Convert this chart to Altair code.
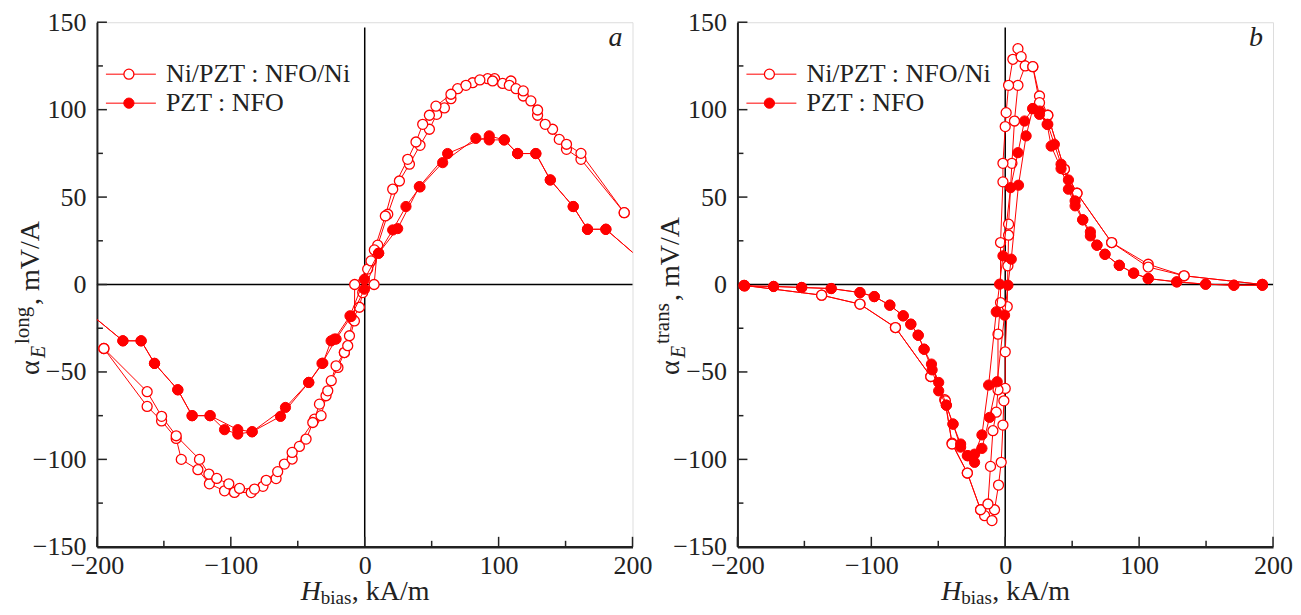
import altair as alt
import pandas as pd

RED = "#ff0000"
INK = "#222222"
FONT = "Liberation Serif"

# ---------------- Panel a (longitudinal) ----------------
a_open1_x = [-194.8, -162.5, -151.7, -140.8, -137, -124.6, -116, -104.7, -97.3, -84.8, -76, -66.2, -60, -54.2,
             -48.8, -43.8, -37.5, -33.8, -28.9, -25, -20, -15.2, -11.4, -9, -4, -1.5, 7, 9.7, 17.2, 25.9, 33.4,
             41.3, 48.3, 53.7, 59.5, 64.4, 69.4, 80.6, 91.8, 97, 103, 109.2, 118.4, 124.1, 129.1, 140.3, 150.7,
             161.5, 193.8]
a_open1_y = [-36.6, -69.7, -78, -88, -100, -105.9, -114, -118, -118.9, -119, -115.4, -111, -102.7, -99.8,
             -92.6, -88.4, -77, -68.4, -63.6, -55, -47.4, -38.9, -29.3, -19.8, -13, -4.6, 0, 22.5, 40.2, 59.2,
             68.8, 79.6, 88.8, 97.3, 101, 106.3, 112, 115.4, 117.7, 117.7, 115, 116.4, 107.8, 105, 96.8, 88.8,
             77.3, 71.6, 41.1]
a_open2_x = [-194.8, -162.5, -151.7, -140.8, -123.4, -116.4, -110.5, -101.5, -93.5, -82.3, -73.6, -65, -54.2,
             -38.8, -32.6, -27.6, -21.4, -15.2, -12.7, -7.7, -7.5, 2.2, 4.7, 7.2, 15.4, 20.9, 32.1, 38.3, 43.3,
             48.3, 53.2, 64.4, 75.6, 86, 95.5, 108, 113, 118.4, 129.1, 134.8, 145.3, 150.7, 161.5, 193.8]
a_open2_y = [-36.6, -61.3, -75.4, -86.5, -100, -108.4, -110.9, -114, -116.6, -117, -112, -107, -96, -78.9,
             -75, -60.8, -46.5, -38.9, -35, -20.8, 0, 8.8, 13.5, 19.8, 39.2, 54.5, 71.6, 81.5, 91.6, 96.8, 102,
             108.8, 113.9, 117, 116.4, 113.9, 112, 110.7, 99.8, 91.6, 83, 80.2, 75, 41.1]
a_fill1_x = [-215, -180.6, -167, -157, -139.6, -128.9, -115.5, -104.7, -94.8, -84.1, -62.9, -41.8, -31.9,
             -21.4, -10.2, -0.2, 10.4, 24.6, 40.8, 61.9, 93, 104.2, 114.2, 127.8, 138.6, 155.7, 166.4, 180.1, 215]
a_fill1_y = [-10.5, -32.2, -32.2, -45.1, -60.2, -75, -75, -83, -85.5, -84.2, -75.4, -56, -45.1, -31.2, -18.3,
             -2.7, 17.9, 32, 56, 74.9, 85, 82.7, 74.9, 74.9, 59.8, 44.6, 31.6, 31.6, 8.5]
a_fill2_x = [-215, -180.6, -167, -157, -139.6, -128.9, -115.5, -94.8, -84.1, -59.2, -41.8, -31.3, -25.1,
             -22.6, -11, -0.2, 10.4, 20.9, 30.8, 41.3, 58.2, 83, 93, 104.2, 114.2, 127.8, 138.6, 155.7, 166.4,
             180.1, 215]
a_fill2_y = [-10.5, -32.2, -32.2, -45.1, -60.2, -75, -75, -83, -84.2, -70.3, -56, -45, -32.2, -31.2, -17.9,
             3, 17.9, 31.2, 44.6, 55.8, 69.7, 83.6, 82.7, 82.7, 74.9, 74.9, 59.8, 44.6, 31.6, 31.6, 8.5]

# ---------------- Panel b (transverse) ----------------
b_open1_x = [-195, -137.1, -108.5, -82, -55.6, -45.2, -39.7, -28.3, -18.4, -15.4, -9.9, -8, -5, -3, -1.7, -1,
             0, 0, 1.5, 2, 2.5, 2.5, 5, 6.9, 9.5, 14.9, 20.6, 25.6, 31.8, 44.2, 53.6, 79.5, 106.8, 133.6, 192]
b_open1_y = [-0.5, -6.1, -11.2, -24.6, -52.6, -65.9, -90.7, -107.8, -128.8, -132.2, -135, -128.8, -114.7,
             -101.7, -80.4, -66.5, -59.4, -38.5, -12.6, 10.7, 28.2, 34.5, 69.3, 93.5, 113.9, 125, 124.6, 107.8,
             96.8, 65.9, 52.2, 24, 11.6, 5, 0]
b_open2_x = [-195, -137.1, -108.5, -82, -55.6, -44.7, -39.7, -28.3, -18.4, -12.9, -11, -9.2, -6.7, -5.4, -5.4,
             -3.5, -3.5, -1.7, -1.7, 0, 0.7, 2.5, 5.7, 9.5, 11.9, 20.6, 25.6, 31.8, 44.2, 53.6, 79.5, 106.8,
             133.6, 192]
b_open2_y = [-0.5, -6.1, -11.2, -24.6, -52.6, -66.5, -91.2, -107.8, -128.8, -125.5, -104, -83.6, -73, -60.2,
             -28.4, -10.3, 24, 58.7, 69.3, 90.3, 98.3, 113.9, 128.8, 134.9, 130.3, 124.6, 104, 96.8, 65.9, 52.2,
             24, 10, 5, 0]
b_fill1_x = [-194.7, -173, -152, -130, -108.5, -97.8, -86.2, -76.2, -70.5, -65, -60.6, -55.1, -49.7, -44, -39,
             -33.3, -27.8, -22.9, -17.4, -11.7, -6, -0.5, 2, 4.5, 9.9, 15.6, 20.6, 25.6, 31.8, 36.7, 41.7, 47.2,
             52.2, 57.9, 63.6, 68.5, 74.5, 85.2, 95.9, 106.8, 128.1, 149.7, 170.8, 192]
b_fill1_y = [-0.8, -1.1, -1.7, -2.3, -4.6, -6.9, -11.8, -17.9, -22.7, -29, -37, -45.5, -56, -69, -79.8, -91.2,
             -97.9, -101.7, -93.7, -76, -55.6, -17.5, -0.4, 14.5, 56.8, 85, 100.6, 99.2, 91.6, 80.2, 68.8, 59.8,
             47.8, 37, 30.1, 22.5, 17.3, 11, 6.5, 3.4, 1.5, 0.2, -0.4, -0.4]
b_fill2_x = [-194.7, -173, -152, -130, -108.5, -97.8, -86.2, -76.2, -70.5, -65, -60.6, -54.6, -49.7, -44, -39,
             -33.3, -28.3, -22.9, -17.4, -12.4, -6.7, -4.2, -1.7, 4, 9.5, 14.4, 20.6, 25.6, 31.3, 34.3, 41.7,
             47.2, 52.2, 57.9, 63.6, 68.5, 74.5, 85.2, 95.9, 106.8, 128.1, 149.7, 170.8, 192]
b_fill2_y = [-0.8, -1.1, -1.7, -2.3, -4.6, -6.9, -11.8, -17.9, -22.7, -29, -37, -48.8, -60.8, -69, -79.8, -93,
             -97.9, -97, -86, -57.5, -15.6, 0.2, 16.4, 55.4, 75.4, 93.5, 100.6, 97.3, 91.6, 79.2, 66.3, 54.5, 45,
             37, 27.8, 22.5, 17.3, 11, 6.5, 3.4, 1.5, 0.2, -0.4, -0.4]

legend_labels = ["Ni/PZT : NFO/Ni", "PZT : NFO"]
x_major = [-200, -100, 0, 100, 200]
x_minor = [-150, -50, 50, 150]
y_major = [-150, -100, -50, 0, 50, 100, 150]
y_minor = [-125, -75, -25, 25, 75, 125]

W, H = 536, 525


def series_df(branches):
    rows = []
    for b, (xs, ys) in enumerate(branches):
        assert len(xs) == len(ys)
        for i, (xv, yv) in enumerate(zip(xs, ys)):
            rows.append({"H": xv, "a": yv, "branch": b, "ord": i})
    return pd.DataFrame(rows)


one = pd.DataFrame({"k": [0]})


def txt(text, x, y, size=26, style="normal", angle=0, align="left"):
    return alt.Chart(one).mark_text(
        text=text, font=FONT, fontSize=size, fontStyle=style, angle=angle,
        align=align, baseline="alphabetic", color=INK
    ).encode(x=alt.value(x), y=alt.value(y))


def panel(open_df, fill_df, sup, letter):
    xs = alt.Scale(domain=[-200, 200], nice=False, zero=False)
    ys = alt.Scale(domain=[-150, 150], nice=False, zero=False)
    xax = alt.Axis(values=x_major, ticks=False, grid=False, title=None, labelFont=FONT, labelFontSize=26,
                   labelColor=INK, labelPadding=6, domainColor=INK, domainWidth=2.4, labelFlush=False)
    yax = alt.Axis(values=y_major, ticks=False, grid=False, title=None, labelFont=FONT, labelFontSize=26,
                   labelColor=INK, labelPadding=11, domainColor=INK, domainWidth=2, labelFlush=False)
    X = alt.X("H:Q", scale=xs, axis=xax)
    Y = alt.Y("a:Q", scale=ys, axis=yax)

    xt = pd.DataFrame({"H": x_major + x_minor, "len": [10] * len(x_major) + [6] * len(x_minor)})
    yt = pd.DataFrame({"a": y_major + y_minor, "len": [10] * len(y_major) + [6] * len(y_minor)})
    xticks_major = alt.Chart(xt[xt["len"] == 10]).mark_rule(color=INK, strokeWidth=1.5).encode(
        x=X, y=alt.value(H), y2=alt.value(H - 10))
    xticks_minor = alt.Chart(xt[xt["len"] == 6]).mark_rule(color=INK, strokeWidth=1.5).encode(
        x=X, y=alt.value(H), y2=alt.value(H - 6))
    yticks_major = alt.Chart(yt[yt["len"] == 10]).mark_rule(color=INK, strokeWidth=1.5).encode(
        y=Y, x=alt.value(0), x2=alt.value(10))
    yticks_minor = alt.Chart(yt[yt["len"] == 6]).mark_rule(color=INK, strokeWidth=1.5).encode(
        y=Y, x=alt.value(0), x2=alt.value(6))

    vzero = alt.Chart(pd.DataFrame({"H": [0], "a": [-150], "a2": [147]})).mark_rule(
        color="black", strokeWidth=1.5).encode(x=X, y=Y, y2="a2:Q")
    hzero = alt.Chart(pd.DataFrame({"a": [0]})).mark_rule(color="black", strokeWidth=1.5).encode(
        y=Y, x=alt.value(0), x2=alt.value(W))

    open_line = alt.Chart(open_df).mark_line(color=RED, strokeWidth=1, clip=True).encode(
        x=X, y=Y, detail="branch:N", order="ord:Q")
    open_pts = alt.Chart(open_df).mark_point(shape="circle", filled=True, fill="white", stroke=RED,
                                             strokeWidth=1.3, size=100, opacity=1, clip=True).encode(x=X, y=Y)
    fill_line = alt.Chart(fill_df).mark_line(color=RED, strokeWidth=1, clip=True).encode(
        x=X, y=Y, detail="branch:N", order="ord:Q")
    fill_pts = alt.Chart(fill_df).mark_point(shape="circle", filled=True, fill=RED, stroke=RED,
                                             strokeWidth=1, size=105, opacity=1, clip=True).encode(x=X, y=Y)

    # legend
    leg = []
    for i, yy in enumerate([52, 81]):
        leg.append(alt.Chart(one).mark_rule(color=RED, strokeWidth=1).encode(
            x=alt.value(9), x2=alt.value(59), y=alt.value(yy)))
        if i == 0:
            leg.append(alt.Chart(one).mark_point(shape="circle", filled=True, fill="white", stroke=RED,
                                                 strokeWidth=1.3, size=100, opacity=1).encode(
                x=alt.value(32), y=alt.value(yy)))
        else:
            leg.append(alt.Chart(one).mark_point(shape="circle", filled=True, fill=RED, stroke=RED,
                                                 strokeWidth=1, size=105, opacity=1).encode(
                x=alt.value(32), y=alt.value(yy)))
        leg.append(txt(legend_labels[i], 69, yy + 8, size=26))

    # y title pieces, positioned along the rotated baseline (text reads upward)
    sup_len = 37 if sup == "long" else 41
    y_alpha = 353
    y_sub = y_alpha - 17
    y_sup = y_sub - 14
    titles = [
        txt("H", 204, 578, size=28, style="italic"),
        txt("bias", 224, 582, size=19),
        txt(", kA/m", 255, 578, size=28),
        txt("\u03b1", -58, y_alpha, size=28, angle=270),
        txt("E", -52, y_sub, size=20, style="italic", angle=270),
        txt(sup, -68, y_sup, size=21, angle=270),
        txt(", mV/A", -58, y_sup - sup_len - 2, size=28, angle=270),
        txt(letter, 526, 24, size=28, style="italic", align="right"),
    ]
    frame = alt.Chart(one).mark_rule(opacity=0).encode(x=alt.value(-88), y=alt.value(-12), y2=alt.value(0))

    return alt.layer(
        frame, hzero, vzero, xticks_major, xticks_minor, yticks_major, yticks_minor,
        open_line, open_pts, fill_line, fill_pts, *leg, *titles
    ).properties(width=W, height=H)


pa = panel(series_df([(a_open1_x, a_open1_y), (a_open2_x, a_open2_y)]),
           series_df([(a_fill1_x, a_fill1_y), (a_fill2_x, a_fill2_y)]), "long", "a")
pb = panel(series_df([(b_open1_x, b_open1_y), (b_open2_x, b_open2_y)]),
           series_df([(b_fill1_x, b_fill1_y), (b_fill2_x, b_fill2_y)]), "trans", "b")

chart = alt.hconcat(pa, pb, spacing=105, bounds="flush").properties(padding=0).configure_view(
    stroke=None).configure(background="white")

chart.save("out.html", embed_options={"renderer": "svg", "actions": False})
